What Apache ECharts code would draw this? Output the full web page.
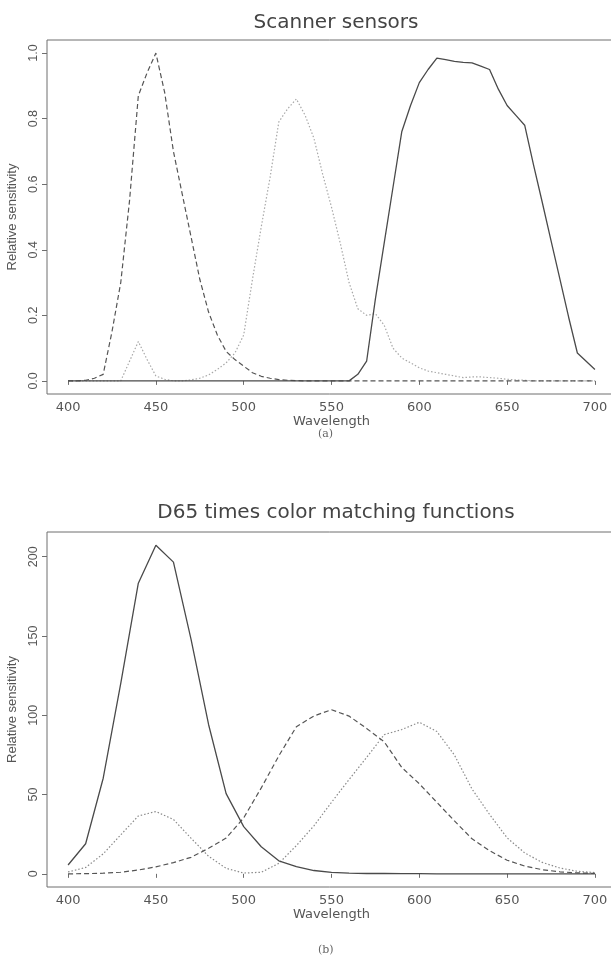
<!DOCTYPE html>
<html><head><meta charset="utf-8">
<script src="https://cdn.jsdelivr.net/npm/echarts@6/dist/echarts.min.js"></script>
<style>html,body{margin:0;padding:0;background:#fff}#c{width:611px;height:964px}</style>
</head><body><div id="c"></div>
<script>
// ---- Panel (a): Scanner sensors (5 nm steps) ----
const wavelengthsA = [400,405,410,415,420,425,430,435,440,445,450,455,460,465,470,475,480,485,490,495,500,505,510,515,520,525,530,535,540,545,550,555,560,565,570,575,580,585,590,595,600,605,610,615,620,625,630,635,640,645,650,655,660,665,670,675,680,685,690,695,700];
const scanRed = [0,0,0,0,0,0,0,0,0,0,0,0,0,0,0,0,0,0,0,0,0,0,0,0,0,0,0,0,0,0,0,0,0,0.02,0.06,0.25,0.42,0.59,0.76,0.84,0.91,0.95,0.985,0.98,0.975,0.972,0.97,0.96,0.95,0.89,0.84,0.81,0.78,0.66,0.545,0.428,0.312,0.195,0.085,0.06,0.035];
const scanBlue = [0,0,0.002,0.008,0.02,0.15,0.30,0.55,0.87,0.94,1.0,0.88,0.70,0.57,0.44,0.31,0.21,0.14,0.09,0.065,0.045,0.025,0.014,0.008,0.004,0.002,0.001,0,0,0,0,0,0,0,0,0,0,0,0,0,0,0,0,0,0,0,0,0,0,0,0,0,0,0,0,0,0,0,0,0,0];
const scanGreen = [0,0,0,0,0,0,0,0.06,0.12,0.065,0.015,0.005,0,0,0.003,0.008,0.018,0.035,0.055,0.085,0.14,0.31,0.47,0.62,0.79,0.83,0.86,0.81,0.74,0.63,0.53,0.42,0.30,0.22,0.20,0.205,0.17,0.10,0.07,0.055,0.04,0.03,0.025,0.02,0.015,0.01,0.012,0.012,0.01,0.008,0.005,0.003,0.002,0,0,0,0,0,0,0,0];

// ---- Panel (b): D65 times color matching functions (10 nm steps) ----
const wavelengthsB = [400,410,420,430,440,450,460,470,480,490,500,510,520,530,540,550,560,570,580,590,600,610,620,630,640,650,660,670,680,690,700];
const d65Z = [5.6,19.0,60.3,120.1,183.3,207.3,196.6,148.0,94.2,50.6,29.8,17.1,8.2,4.5,2.1,0.9,0.4,0.2,0.2,0.1,0.1,0,0,0,0,0,0,0,0,0,0];
const d65Y = [0.0,0.1,0.4,1.0,2.4,4.4,7.1,10.4,16.1,22.6,35.3,54.2,74.4,92.8,99.6,103.5,99.5,91.7,83.3,67.1,56.8,45.1,33.4,22.1,14.6,8.6,4.9,2.6,1.3,0.6,0.3];
const d65X = [1.2,4.0,12.6,24.6,36.5,39.3,34.3,22.5,11.1,3.5,0.5,1.0,6.6,17.8,30.3,45.1,59.5,73.4,87.8,91.0,95.6,89.8,74.9,53.5,37.5,22.7,13.2,7.2,3.7,1.6,0.8];

// ---- Tick labels ----
const xTicks = [400,450,500,550,600,650,700];
const yTicksA = [0,0.2,0.4,0.6,0.8,1.0];
const yTicksB = [0,50,100,150,200];

const titles = ['Scanner sensors', 'D65 times color matching functions'];
const captions = ['(a)', '(b)'];

const pairs = (xs, ys) => xs.map((x, i) => [x, ys[i]]);

const H = 'DejaVu Sans';
const A = 'Liberation Sans';
const axisColor = '#6e6e6e';
const textColor = '#555';

function xAxisCfg(gi) {
  return {
    type: 'value', gridIndex: gi, min: 388, max: 712,
    name: 'Wavelength', nameLocation: 'middle', nameGap: 20,
    nameTextStyle: { fontFamily: H, fontSize: 13, color: textColor },
    axisLine: { show: false },
    splitLine: { show: false },
    axisTick: { show: true, inside: false, length: 4, customValues: xTicks, lineStyle: { color: axisColor } },
    axisLabel: { customValues: xTicks, margin: 7, fontFamily: H, fontSize: 13, color: textColor }
  };
}
function yAxisCfg(gi, min, max, ticks, fmt) {
  return {
    type: 'value', gridIndex: gi, min: min, max: max,
    name: 'Relative sensitivity', nameLocation: 'middle', nameGap: 27,
    nameTextStyle: { fontFamily: A, fontSize: 13, color: textColor },
    axisLine: { show: false },
    splitLine: { show: false },
    axisTick: { show: true, inside: false, length: 5, customValues: ticks, lineStyle: { color: axisColor } },
    axisLabel: { customValues: ticks, rotate: 90, margin: 7, fontFamily: A, fontSize: 12.5, color: textColor, formatter: fmt }
  };
}
function line(xi, yi, data, style) {
  return { type: 'line', xAxisIndex: xi, yAxisIndex: yi, data: data, showSymbol: false, symbol: 'none', animation: false, silent: true, lineStyle: style };
}

const solid = { color: '#4a4a4a', width: 1.3, type: 'solid' };
const dashed = { color: '#555', width: 1.2, type: [5, 3] };
const dottedA = { color: '#a8a8a8', width: 1.2, type: [1.5, 2] };
const dottedB = { color: '#8a8a8a', width: 1.2, type: [1.5, 2] };

const chart = echarts.init(document.getElementById('c'), null, { renderer: 'canvas' });
chart.setOption({
  backgroundColor: '#fff',
  animation: false,
  title: [
    { text: titles[0], left: 331, top: 8, textAlign: 'center', textStyle: { fontFamily: H, fontSize: 20, fontWeight: 'normal', color: '#444' } },
    { text: titles[1], left: 331, top: 498, textAlign: 'center', textStyle: { fontFamily: H, fontSize: 20, fontWeight: 'normal', color: '#444' } }
  ],
  grid: [
    { left: 47, top: 40, width: 569, height: 354, outerBoundsMode: 'none', show: true, borderColor: axisColor, borderWidth: 1, backgroundColor: 'transparent' },
    { left: 47, top: 532, width: 569, height: 355, outerBoundsMode: 'none', show: true, borderColor: axisColor, borderWidth: 1, backgroundColor: 'transparent' }
  ],
  xAxis: [xAxisCfg(0), xAxisCfg(1)],
  yAxis: [
    yAxisCfg(0, -0.04, 1.04, yTicksA, v => Number(v).toFixed(1)),
    yAxisCfg(1, -8.3, 215.6, yTicksB, v => String(Math.round(v)))
  ],
  series: [
    line(0, 0, pairs(wavelengthsA, scanGreen), dottedA),
    line(0, 0, pairs(wavelengthsA, scanBlue), dashed),
    line(0, 0, pairs(wavelengthsA, scanRed), solid),
    line(1, 1, pairs(wavelengthsB, d65X), dottedB),
    line(1, 1, pairs(wavelengthsB, d65Y), dashed),
    line(1, 1, pairs(wavelengthsB, d65Z), solid)
  ],
  graphic: [
    { type: 'text', left: 318, top: 429, style: { text: captions[0], font: '11px "DejaVu Serif"', fill: '#666' } },
    { type: 'text', left: 318, top: 945, style: { text: captions[1], font: '11px "DejaVu Serif"', fill: '#666' } }
  ]
});
</script>
</body></html>
